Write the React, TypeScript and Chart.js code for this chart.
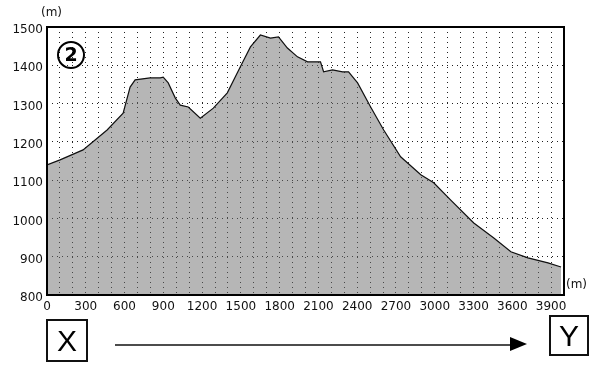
import React, { useEffect, useRef } from "react";
import { Chart, registerables } from "chart.js";

Chart.register(...registerables);

// Distance along route (m) and elevation (m), read from the profile
const distance = [0, 101, 279, 465, 589, 643, 682, 798, 876, 899, 938, 992, 1031, 1093, 1186, 1287, 1395, 1496, 1574, 1651, 1729, 1791, 1860, 1938, 2016, 2116, 2140, 2209, 2287, 2333, 2403, 2504, 2605, 2736, 2892, 2992, 3124, 3302, 3457, 3589, 3721, 3876, 3977];
const elevation = [1140, 1153, 1179, 1231, 1275, 1343, 1362, 1367, 1367, 1369, 1354, 1315, 1296, 1291, 1262, 1288, 1328, 1396, 1448, 1479, 1471, 1474, 1445, 1422, 1409, 1409, 1383, 1388, 1383, 1383, 1354, 1291, 1231, 1161, 1114, 1093, 1048, 988, 949, 913, 897, 884, 873];

const xMin = 0;
const xMax = 4000;
const yMin = 800;
const yMax = 1500;
const labelStepX = 300;
const gridStep = 100;

const framePlugin = {
  id: "frame",
  afterDraw(chart: any) {
    const { ctx, chartArea } = chart;
    ctx.save();
    ctx.strokeStyle = "#000";
    ctx.lineWidth = 2;
    ctx.strokeRect(chartArea.left, chartArea.top, chartArea.right - chartArea.left, chartArea.bottom - chartArea.top);
    ctx.restore();
  },
};

export default function App() {
  const ref = useRef<HTMLCanvasElement | null>(null);

  useEffect(() => {
    if (!ref.current) return;
    const data = distance.map((d, i) => ({ x: d, y: elevation[i] }));
    const font = { family: "DejaVu Sans", size: 12 };
    const chart = new Chart(ref.current, {
      type: "line",
      data: {
        datasets: [
          {
            data,
            borderColor: "#111",
            borderWidth: 1.2,
            backgroundColor: "rgba(110,110,110,0.5)",
            fill: "start",
            pointRadius: 0,
            tension: 0,
          },
        ],
      },
      options: {
        animation: false,
        responsive: false,
        plugins: { legend: { display: false }, tooltip: { enabled: false } },
        layout: { padding: { top: 27, right: 27, left: 0, bottom: 0 } },
        scales: {
          x: {
            type: "linear",
            min: xMin,
            max: xMax,
            afterFit: (s: any) => { s.height = 70; },
            ticks: {
              stepSize: gridStep,
              autoSkip: false,
              maxRotation: 0,
              padding: 5,
              color: "#111",
              font,
              callback: (v: any) => (Number(v) % labelStepX === 0 && Number(v) < xMax ? String(v) : ""),
            },
            grid: { color: "#222", lineWidth: 1, drawTicks: false },
            border: { display: false, dash: [1, 4] },
          },
          y: {
            min: yMin,
            max: yMax,
            afterFit: (s: any) => { s.width = 47; },
            ticks: {
              stepSize: gridStep,
              padding: 4,
              labelOffset: 3,
              color: "#111",
              font,
              callback: (v: any) => String(v),
            },
            grid: { color: "#222", lineWidth: 1, drawTicks: false },
            border: { display: false, dash: [1, 4] },
          },
        },
      },
      plugins: [framePlugin],
    });
    return () => chart.destroy();
  }, []);

  const sans = "DejaVu Sans, sans-serif";
  return (
    <div style={{ position: "absolute", left: 0, top: 0, width: 591, height: 365, background: "#fff", overflow: "hidden" }}>
      <canvas ref={ref} width={591} height={365} style={{ position: "absolute", left: 0, top: 0 }} />
      <div style={{ position: "absolute", left: 41, top: 5, fontFamily: sans, fontSize: 12, color: "#111" }}>(m)</div>
      <div style={{ position: "absolute", left: 566, top: 277, fontFamily: sans, fontSize: 12, color: "#111" }}>(m)</div>
      <div style={{ position: "absolute", left: 57, top: 41, width: 28, height: 28, boxSizing: "border-box", border: "2.5px solid #000", borderRadius: "50%", fontFamily: sans, fontWeight: "bold", fontSize: 19, lineHeight: "23px", textAlign: "center", color: "#000" }}>2</div>
      <div style={{ position: "absolute", left: 46, top: 319, width: 42, height: 43, boxSizing: "border-box", border: "2px solid #111", fontFamily: "Liberation Sans, sans-serif", fontSize: 30, lineHeight: "39px", textAlign: "center", color: "#000" }}>X</div>
      <div style={{ position: "absolute", left: 549, top: 315, width: 40, height: 41, boxSizing: "border-box", border: "2px solid #111", fontFamily: "Liberation Sans, sans-serif", fontSize: 30, lineHeight: "37px", textAlign: "center", color: "#000" }}>Y</div>
      <svg width={591} height={365} style={{ position: "absolute", left: 0, top: 0 }}>
        <line x1={115} y1={345} x2={512} y2={345} stroke="#111" strokeWidth={1.6} />
        <polygon points="510,337 527,344 510,351" fill="#000" />
      </svg>
    </div>
  );
}
